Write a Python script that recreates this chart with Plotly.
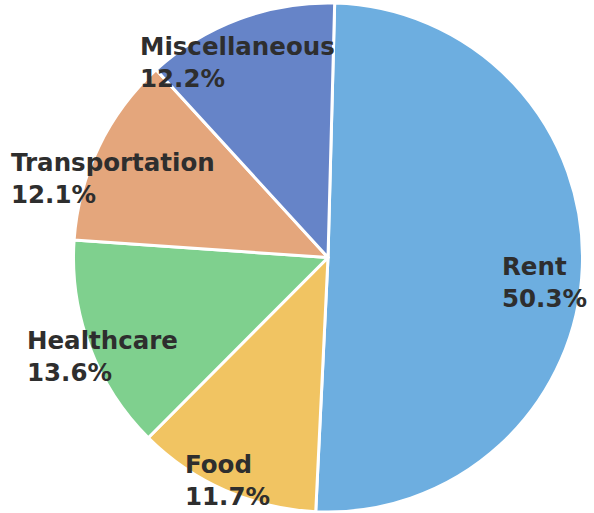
import math
import plotly.graph_objects as go

# ---- data ----
categories = ["Rent", "Food", "Healthcare", "Transportation", "Miscellaneous"]
shares = [50.3, 11.7, 13.6, 12.1, 12.2]

# ---- styles ----
colors = ["#6DAEE0", "#F1C462", "#7FD08E", "#E4A67C", "#6684C8"]
label_dist = [0.86, 0.96, 0.94, 0.88, 0.83]   # radial distance of each label (fraction of radius)
label_xshift = [-2, -2, -2, -13, -17]          # px nudges
label_yshift = [-17, 0, -15, -18, -3]
rotation = 1.5

W, H = 594, 513
ml, mr, mt, mb = 62, 0, 3, 1
pw, ph = W - ml - mr, H - mt - mb
radius = min(pw, ph) / 2

fig = go.Figure(go.Pie(
    labels=categories,
    values=shares,
    sort=False,
    direction="clockwise",
    rotation=rotation,
    marker=dict(colors=colors, line=dict(color="white", width=3)),
    textinfo="none",
    hoverinfo="label+percent",
    showlegend=False,
))

total = sum(shares)
cum = 0.0
annotations = []
for i, (cat, v) in enumerate(zip(categories, shares)):
    mid = (cum + v / 2) / total * 360 + rotation
    cum += v
    a = math.radians(mid)
    dx = math.sin(a) * radius * label_dist[i]
    dy = -math.cos(a) * radius * label_dist[i]
    annotations.append(dict(
        x=0.5 + dx / pw,
        y=0.5 - dy / ph,
        xref="paper", yref="paper",
        text=f"{cat}<br>{v:.1f}%",
        showarrow=False,
        align="left",
        xanchor="center", yanchor="middle",
        xshift=label_xshift[i],
        yshift=label_yshift[i],
        font=dict(family="DejaVu Sans", size=24.5, color="#2E2E2E", weight="bold"),
    ))

fig.update_layout(
    width=W, height=H,
    margin=dict(l=ml, r=mr, t=mt, b=mb),
    paper_bgcolor="white",
    plot_bgcolor="white",
    annotations=annotations,
)

fig.write_html("out.html", config={"displayModeBar": False},
               post_script="document.body.style.margin='0px';")
